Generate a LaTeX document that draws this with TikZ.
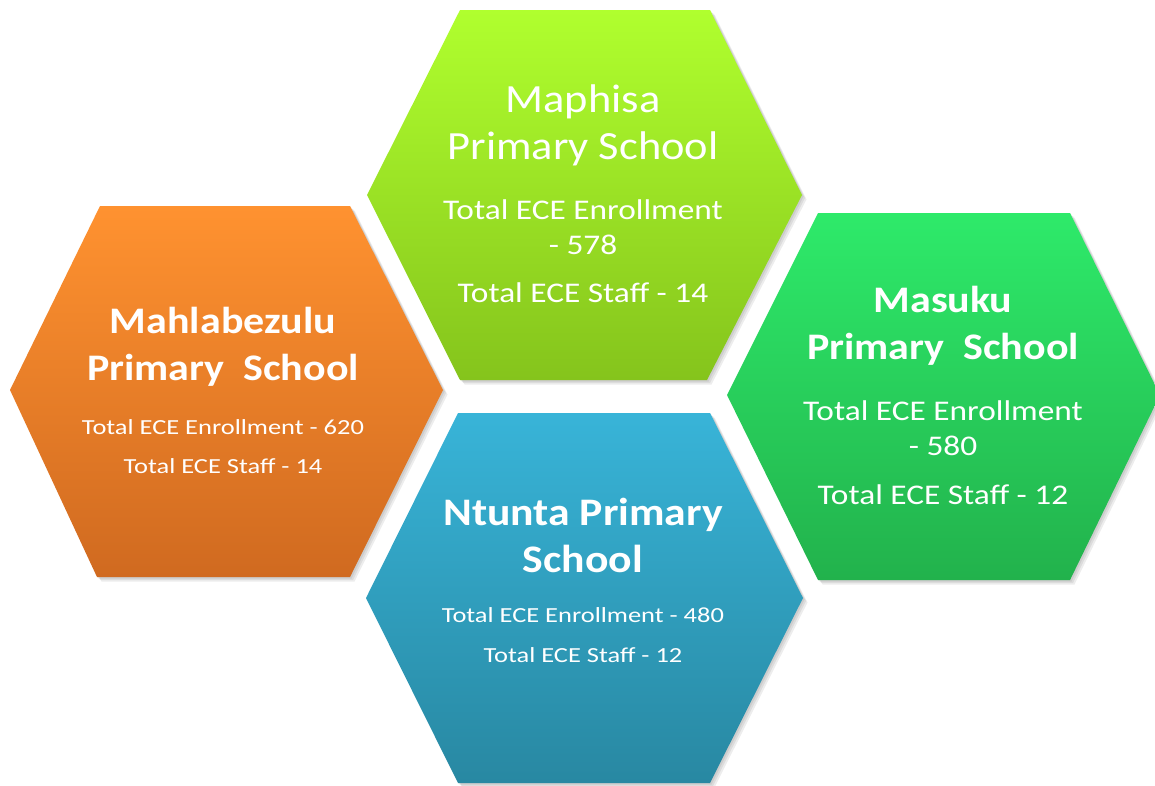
\documentclass[tikz,border=0pt]{standalone}
\usepackage{fontspec}
\setmainfont{Carlito}
\newfontfamily\ftitleR[FakeStretch=1.11]{Carlito}
\newfontfamily\ftitleB[FakeStretch=1.12]{Carlito}
\newfontfamily\fbodyL[FakeStretch=1.17]{Carlito}
\newfontfamily\fbodyS[FakeStretch=1.23]{Carlito}
\definecolor{mapTop}{RGB}{176,255,46}
\definecolor{mapBot}{RGB}{133,196,28}
\definecolor{oraTop}{RGB}{255,146,48}
\definecolor{oraBot}{RGB}{208,106,32}
\definecolor{masTop}{RGB}{46,234,106}
\definecolor{masBot}{RGB}{34,178,76}
\definecolor{bluTop}{RGB}{56,180,216}
\definecolor{bluBot}{RGB}{40,136,162}
\tikzset{
  hexshadow/.style={fill=black, opacity=0.07},
  txt/.style={text=white, align=center, inner sep=0pt},
  titleR/.style={txt, font=\ftitleR\fontsize{40}{47}\selectfont},
  titleB/.style={txt, font=\ftitleB\bfseries\fontsize{37.5}{47}\selectfont},
  bodyL/.style={txt, font=\fbodyL\fontsize{28.5}{35}\selectfont},
  bodyS/.style={txt, font=\fbodyS\fontsize{21.5}{39}\selectfont},
}
\newcommand\mapPath{(460,10) -- (710,10) -- (802,195) -- (707,380) -- (460,380) -- (367,195) -- cycle}
\newcommand\oraPath{(100,206) -- (350,206) -- (443,390) -- (350,577) -- (97,577) -- (10,390) -- cycle}
\newcommand\masPath{(818,213) -- (1070,213) -- (1160,395) -- (1070,580) -- (818,580) -- (727,395) -- cycle}
\newcommand\bluPath{(458,413) -- (710,413) -- (803,598) -- (710,783) -- (458,783) -- (366,598) -- cycle}
\begin{document}
\begin{tikzpicture}[x=1pt,y=-1pt]
\useasboundingbox (0,0) rectangle (1155,785);
\fill[white] (0,0) rectangle (1155,785);
\clip (0,0) rectangle (1155,785);
% shadows
\foreach \d in {1.5,3,4.5}{
  \begin{scope}[shift={(\d,\d)}]
    \fill[hexshadow] \mapPath;
    \fill[hexshadow] \oraPath;
    \fill[hexshadow] \masPath;
    \fill[hexshadow] \bluPath;
  \end{scope}
}
% hexagons
\shade[top color=mapTop, bottom color=mapBot] \mapPath;
\shade[top color=oraTop, bottom color=oraBot] \oraPath;
\shade[top color=masTop, bottom color=masBot] \masPath;
\shade[top color=bluTop, bottom color=bluBot] \bluPath;
% Maphisa
\node[titleR] (mapT) at (583,125) {Maphisa\\Primary School};
\node[bodyL] (mapE) at (583,227) {Total ECE Enrollment\\- 578};
\node[bodyL] (mapS) at (583,293) {Total ECE Staff - 14};
% Mahlabezulu
\node[titleB] (oraT) at (223,347) {Mahlabezulu\\Primary\ \ School};
\node[bodyS] (oraE) at (223,427) {Total ECE Enrollment - 620};
\node[bodyS] (oraS) at (223,466) {Total ECE Staff - 14};
% Masuku
\node[titleB] (masT) at (943,326) {Masuku\\Primary\ \ School};
\node[bodyL] (masE) at (943,428) {Total ECE Enrollment\\- 580};
\node[bodyL] (masS) at (943,495) {Total ECE Staff - 12};
% Ntunta
\node[titleB, font=\ftitleB\bfseries\fontsize{39}{47}\selectfont] (bluT) at (583,535) {Ntunta Primary\\School};
\node[bodyS] (bluE) at (583,615) {Total ECE Enrollment - 480};
\node[bodyS] (bluS) at (583,655) {Total ECE Staff - 12};
\end{tikzpicture}
\end{document}
